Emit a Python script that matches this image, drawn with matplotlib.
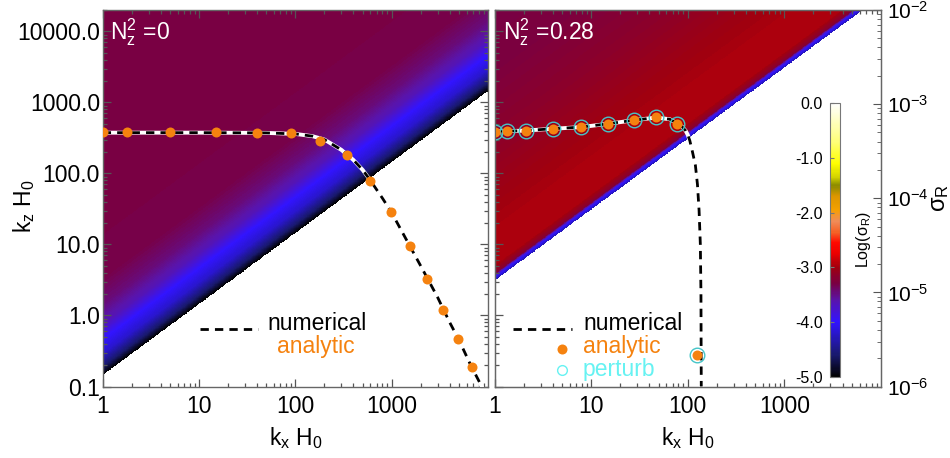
import numpy as np
import matplotlib
matplotlib.use('Agg')
import matplotlib.pyplot as plt
from matplotlib.colors import LinearSegmentedColormap
from matplotlib.lines import Line2D
from matplotlib.ticker import FixedLocator, FixedFormatter

plt.rcParams['font.family'] = ['Liberation Sans', 'DejaVu Sans']
plt.rcParams['mathtext.fontset'] = 'custom'
plt.rcParams['mathtext.rm'] = 'Liberation Sans'
plt.rcParams['mathtext.it'] = 'Liberation Sans:italic'
plt.rcParams['mathtext.bf'] = 'Liberation Sans:bold'

# ---- data ----
# left panel (N_z^2 = 0)
num0_kx = [1, 10, 50, 100, 150, 200, 300, 400, 500, 600, 800, 1000, 1500, 2000, 3000, 4000, 5000, 6500, 8600]
num0_kz = [375, 375, 372, 360, 335, 300, 215, 155, 112, 80, 45, 28, 10.2, 5.0, 1.8, 0.8, 0.45, 0.21, 0.1]
ana0_kx = [1, 1.8, 5, 15, 40, 90, 180, 340, 590, 980, 1550, 2340, 3400, 4900, 6750]
ana0_kz = [380, 380, 380, 378, 375, 365, 290, 182, 79, 29, 9.6, 3.3, 1.2, 0.47, 0.19]

# right panel (N_z^2 = 0.28)
num1_kx = [1, 2, 4, 8, 15, 28, 47, 65, 78, 88, 95, 100, 105, 112, 120, 126, 131, 135, 137, 138]
num1_kz = [389, 400, 425, 450, 500, 562, 612, 580, 505, 450, 400, 350, 290, 200, 130, 70, 30, 10, 2, 0.1]
ana1_kx = [1, 1.35, 2.1, 4, 7.9, 15, 27.5, 47, 78, 124]
ana1_kz = [389, 396, 400, 428, 448, 498, 562, 614, 498, 0.275]

# growth-rate field: log(sigma_R) vs decades above the cut-off line kz = cut*kx
cut0 = 0.145
prof0_d = [0, 0.12, 0.3, 0.5, 0.72, 1.0, 1.35, 2.0, 7.0]
prof0_v = [-5.0, -4.6, -4.2, -4.0, -3.65, -3.45, -3.32, -3.3, -3.3]
cut1 = 3.1
prof1_d = [0, 0.05, 0.1, 0.22, 0.6, 1.2, 2.0, 3.0, 5.0]
prof1_v = [-4.3, -4.0, -3.2, -2.95, -2.95, -3.02, -3.15, -3.27, -3.32]

cb_ticks = [-5.0, -4.0, -3.0, -2.0, -1.0, 0.0]
x_ticks = [1, 10, 100, 1000]
y_ticks = [0.1, 1, 10, 100, 1000, 10000]

# colour table
nodes = [(-5.0, (0, 0, 0)), (-4.6, (25, 25, 110)), (-4.0, (50, 20, 255)),
         (-3.6, (90, 20, 170)), (-3.3, (120, 0, 68)), (-3.0, (160, 0, 15)),
         (-2.75, (235, 0, 0)), (-2.55, (255, 10, 0)), (-2.35, (245, 100, 40)),
         (-2.15, (240, 140, 90)), (-1.95, (245, 160, 0)), (-1.7, (220, 150, 0)),
         (-1.5, (140, 140, 0)), (-1.35, (210, 210, 0)), (-1.1, (255, 255, 0)),
         (-0.7, (255, 255, 120)), (0.0, (255, 255, 255))]
cmap = LinearSegmentedColormap.from_list(
    'sig', [((v + 5) / 5, tuple(c / 255 for c in rgb)) for v, rgb in nodes])

orange = '#f5820f'
W, H = 950, 458
fig = plt.figure(figsize=(9.5, 4.58), dpi=100)


def box(x0, y0, x1, y1):
    return [x0 / W, 1 - y1 / H, (x1 - x0) / W, (y1 - y0) / H]


ax1 = fig.add_axes(box(102.7, 10, 488, 386.5))
ax2 = fig.add_axes(box(494.5, 10, 881, 386.5))

lx = np.linspace(0, 4, 700)
lz = np.linspace(-1, np.log10(2e4), 700)
KX, KZ = np.meshgrid(10 ** lx, 10 ** lz)


def field(cut, pd, pv):
    d = np.log10(KZ / KX) - np.log10(cut)
    return np.ma.masked_where(d < 0, np.interp(d, pd, pv))


mesh = ax1.pcolormesh(10 ** lx, 10 ** lz, field(cut0, prof0_d, prof0_v),
                      cmap=cmap, vmin=-5, vmax=0, shading='auto', rasterized=True)
ax2.pcolormesh(10 ** lx, 10 ** lz, field(cut1, prof1_d, prof1_v),
               cmap=cmap, vmin=-5, vmax=0, shading='auto', rasterized=True)

for ax, nkx, nkz, akx, akz in [(ax1, num0_kx, num0_kz, ana0_kx, ana0_kz),
                               (ax2, num1_kx, num1_kz, ana1_kx, ana1_kz)]:
    ax.plot(nkx, nkz, color='white', lw=2.8, zorder=3)
    ax.plot(nkx, nkz, color='black', lw=2.0, dashes=(3, 2.2), zorder=4)
    if ax is ax2:
        ax.plot(akx, akz, 'o', ms=10.5, mfc='none', mec='#45c5c8', mew=1.0, zorder=5)
    ax.plot(akx, akz, 'o', ms=7.2, color=orange, mec='none', zorder=6)

for ax in (ax1, ax2):
    ax.set_xscale('log')
    ax.set_yscale('log')
    ax.set_xlim(1, 1e4)
    ax.set_ylim(0.1, 2e4)
    ax.xaxis.set_major_locator(FixedLocator(x_ticks))
    ax.xaxis.set_major_formatter(FixedFormatter([str(v) for v in x_ticks]))
    ax.yaxis.set_major_locator(FixedLocator(y_ticks))
    ax.yaxis.set_major_formatter(FixedFormatter(['%.1f' % v for v in y_ticks]))
    ax.tick_params(which='both', direction='in', top=True, right=True,
                   color='#555555', labelsize=16.5, width=0.9)
    ax.tick_params(which='major', length=5.5, pad=6)
    ax.tick_params(which='minor', length=3)
    ax.tick_params(axis='y', pad=2)
    for s in ax.spines.values():
        s.set_color('#666666')
        s.set_linewidth(1.0)
    ax.set_xlabel('k$_\\mathrm{x}$ H$_\\mathrm{0}$', fontsize=16.5, labelpad=5)

ax1.set_ylabel('k$_\\mathrm{z}$ H$_\\mathrm{0}$', fontsize=16.5)
ax1.yaxis.set_label_coords(-0.17, 0.48)
ax2.tick_params(labelleft=False, right=False)

ax1.text(0.019, 0.94, 'N$_\\mathrm{z}^\\mathrm{2}$ =0', transform=ax1.transAxes,
         color='white', fontsize=16.5, va='center', zorder=7)
ax2.text(0.021, 0.94, 'N$_\\mathrm{z}^\\mathrm{2}$ =0.28', transform=ax2.transAxes,
         color='white', fontsize=16.5, va='center', zorder=7)

# right-hand sigma_R axis
ax3 = ax2.twinx()
ax3.set_yscale('log')
ax3.set_ylim(1e-6, 1e-2)
ax3.tick_params(which='both', direction='in', color='#555555', labelsize=15, pad=4)
ax3.tick_params(which='major', length=5.5)
ax3.tick_params(which='minor', length=3)
for s in ax3.spines.values():
    s.set_color('#666666')
ax3.set_ylabel('σ$_\\mathrm{R}$', fontsize=17)
ax3.yaxis.set_label_coords(1.124, 0.5)

# colour bar
cax = fig.add_axes(box(830, 103, 840, 377))
cb = fig.colorbar(mesh, cax=cax, ticks=cb_ticks)
cb.outline.set_edgecolor('#777777')
cb.outline.set_linewidth(0.8)
cax.yaxis.set_ticks_position('left')
cax.set_yticklabels(['%.1f' % v for v in cb_ticks])
cax.tick_params(direction='in', length=3, labelsize=11.5, pad=5, color='#777777')
cax.set_ylabel('Log(σ$_\\mathrm{R}$)', fontsize=11.5)
cax.yaxis.set_label_position('right')
cax.yaxis.set_label_coords(2.4, 0.5)


# legends (pixel positions from the reference)
def fx(px):
    return px / W


def fy(py):
    return 1 - py / H


for x0, x1, tx_num, tx_ana in [(200, 258, 267, 277), (513, 572, 583, 583)]:
    fig.add_artist(Line2D([fx(x0), fx(x1)], [fy(329), fy(329)], color='black',
                          lw=2.0, dashes=(3, 2.2)))
    fig.text(fx(tx_num), fy(330), 'numerical', fontsize=16.5, va='baseline')
    fig.text(fx(tx_ana), fy(352.7), 'analytic', fontsize=16.5, va='baseline', color=orange)
fig.add_artist(Line2D([fx(562)], [fy(349)], marker='o', ms=7.2, color=orange, mec='none'))
fig.add_artist(Line2D([fx(562)], [fy(370)], marker='o', ms=7.0, mfc='none',
                      mec='#66f2f2', mew=1.0))
fig.text(fx(583), fy(375.7), 'perturb', fontsize=16.5, va='baseline', color='#66f2f2')

fig.savefig('out.png', dpi=100)
